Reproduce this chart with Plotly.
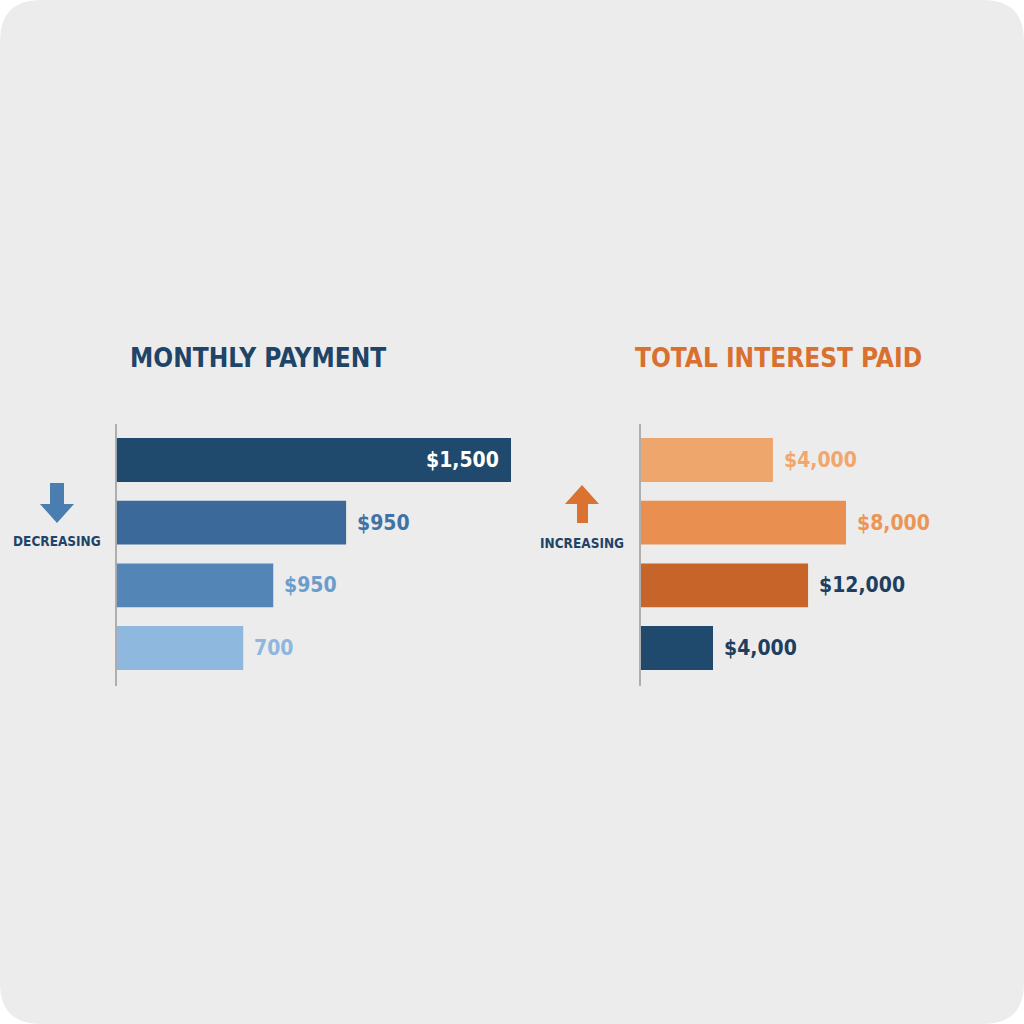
import plotly.graph_objects as go

# ---- data ----
rows = ["Row 1", "Row 2", "Row 3", "Row 4"]
payment_bars = [1500, 873, 596, 482]          # bar lengths
payment_labels = ["$1,500", "$950", "$950", "700"]
interest_bars = [5150, 8000, 6520, 2810]      # bar lengths
interest_labels = ["$4,000", "$8,000", "$12,000", "$4,000"]

left_title = "MONTHLY PAYMENT"
right_title = "TOTAL INTEREST PAID"
left_note = "DECREASING"
right_note = "INCREASING"

# ---- styles ----
NAVY = "#1f4468"
ORANGE = "#d9702f"
payment_colors = ["#1f4a6e", "#3b6a9a", "#5386b6", "#8fb8de"]
payment_text_colors = ["#ffffff", "#3f72a6", "#6a9ccc", "#8fb6dc"]
interest_colors = ["#efa66d", "#e98f4f", "#c6642a", "#1f4a6e"]
interest_text_colors = ["#f0a66c", "#eb9556", "#1f3f60", "#1f3f60"]
FONT = "DejaVu Sans Condensed, Liberation Sans Narrow, Roboto, sans-serif"
BG = "#ececec"

W = H = 1024.0
def px(x):
    return x / W
def py(y):
    return 1 - y / H

pitch = (648 - 460) / 3.0
ytop = 460 - pitch / 2
ybot = 648 + pitch / 2
ydom = [py(ybot), py(ytop)]

fig = go.Figure()

fig.add_trace(go.Bar(
    x=payment_bars, y=rows, orientation="h",
    marker=dict(color=payment_colors, line=dict(width=0)),
    width=0.7, xaxis="x", yaxis="y", hoverinfo="skip",
))
fig.add_trace(go.Bar(
    x=interest_bars, y=rows, orientation="h",
    marker=dict(color=interest_colors, line=dict(width=0)),
    width=0.7, xaxis="x2", yaxis="y2", hoverinfo="skip",
))

annotations = []
for i, (v, lab) in enumerate(zip(payment_bars, payment_labels)):
    inside = i == 0
    annotations.append(dict(
        x=v, y=rows[i], xref="x", yref="y", text="<b>" + lab + "</b>", showarrow=False,
        xanchor="right" if inside else "left", xshift=-10 if inside else 9,
        font=dict(family=FONT, size=21, color=payment_text_colors[i]),
    ))
for i, (v, lab) in enumerate(zip(interest_bars, interest_labels)):
    annotations.append(dict(
        x=v, y=rows[i], xref="x2", yref="y2", text="<b>" + lab + "</b>", showarrow=False,
        xanchor="left", xshift=9,
        font=dict(family=FONT, size=21, color=interest_text_colors[i]),
    ))

annotations += [
    dict(x=px(258), y=py(358), xref="paper", yref="paper", text="<b>" + left_title + "</b>",
         showarrow=False, xanchor="center", yanchor="middle",
         font=dict(family=FONT, size=26, color=NAVY)),
    dict(x=px(778), y=py(358), xref="paper", yref="paper", text="<b>" + right_title + "</b>",
         showarrow=False, xanchor="center", yanchor="middle",
         font=dict(family=FONT, size=26, color=ORANGE)),
    dict(x=px(57), y=py(541), xref="paper", yref="paper", text="<b>" + left_note + "</b>",
         showarrow=False, xanchor="center", yanchor="middle",
         font=dict(family=FONT, size=13.5, color=NAVY)),
    dict(x=px(582), y=py(543), xref="paper", yref="paper", text="<b>" + right_note + "</b>",
         showarrow=False, xanchor="center", yanchor="middle",
         font=dict(family=FONT, size=13.5, color=NAVY)),
]

def path(points):
    return "M " + " L ".join(f"{px(x):.5f},{py(y):.5f}" for x, y in points) + " Z"

down_arrow = [(50, 483), (64, 483), (64, 504), (74, 504), (57, 523), (40, 504), (50, 504)]
up_arrow = [(577, 523), (588, 523), (588, 504), (599, 504), (582, 485), (565, 504), (577, 504)]

shapes = [
    # background card with rounded corners
    dict(type="path", xref="paper", yref="paper", layer="below",
         path=("M 0.04,0 L 0.96,0 Q 1,0 1,0.04 L 1,0.96 Q 1,1 0.96,1 "
               "L 0.04,1 Q 0,1 0,0.96 L 0,0.04 Q 0,0 0.04,0 Z"),
         fillcolor=BG, line=dict(width=0)),
    dict(type="line", xref="paper", yref="paper", x0=px(116), x1=px(116),
         y0=py(424), y1=py(686), line=dict(color="#9a9a9a", width=1.5)),
    dict(type="line", xref="paper", yref="paper", x0=px(640), x1=px(640),
         y0=py(424), y1=py(686), line=dict(color="#9a9a9a", width=1.5)),
    dict(type="path", xref="paper", yref="paper", path=path(down_arrow),
         fillcolor="#4a7db0", line=dict(width=0)),
    dict(type="path", xref="paper", yref="paper", path=path(up_arrow),
         fillcolor="#db7230", line=dict(width=0)),
]

left_range = 1500 * (530 - 116.5) / (511 - 116.5)
right_range = 8000 * (960 - 641) / (846 - 641)

axis_common = dict(showgrid=False, zeroline=False, showticklabels=False,
                   showline=False, ticks="", fixedrange=True)

fig.update_layout(
    width=1024, height=1024, autosize=False,
    margin=dict(l=0, r=0, t=0, b=0),
    paper_bgcolor="#ffffff", plot_bgcolor="rgba(0,0,0,0)",
    showlegend=False,
    xaxis=dict(domain=[px(116.5), px(530)], range=[0, left_range], anchor="y", **axis_common),
    yaxis=dict(domain=ydom, range=[3.5, -0.5], type="category", anchor="x", **axis_common),
    xaxis2=dict(domain=[px(641), px(960)], range=[0, right_range], anchor="y2", **axis_common),
    yaxis2=dict(domain=ydom, range=[3.5, -0.5], type="category", anchor="x2", **axis_common),
    annotations=annotations,
    shapes=shapes,
)

fig.write_html("out.html")
